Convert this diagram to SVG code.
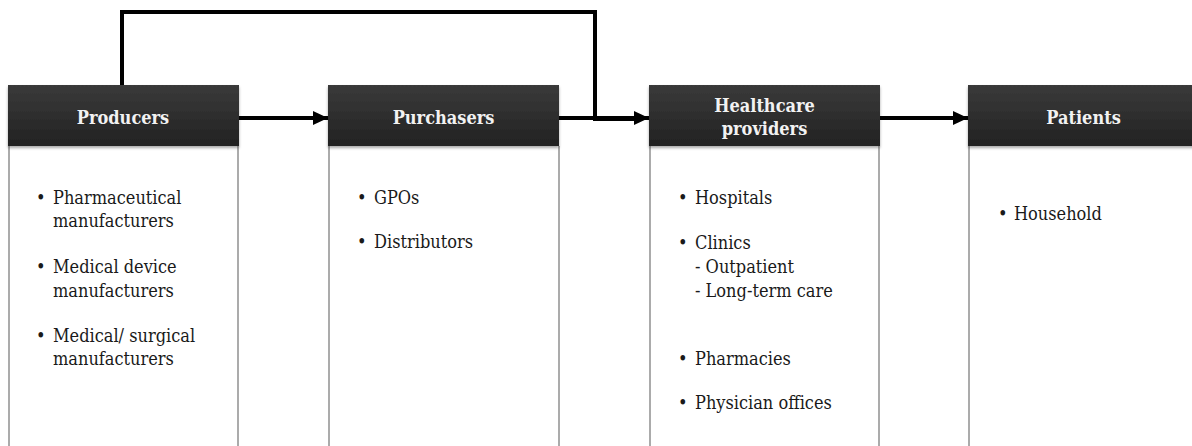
<svg xmlns="http://www.w3.org/2000/svg" width="1192" height="446" viewBox="0 0 1192 446">
  <defs>
    <linearGradient id="hdrFill" x1="0" y1="0" x2="0" y2="1">
      <stop offset="0" stop-color="#3a3a3a"/>
      <stop offset="1" stop-color="#222222"/>
    </linearGradient>
    <filter id="hdrShadow" x="-5%" y="-10%" width="110%" height="130%">
      <feGaussianBlur in="SourceAlpha" stdDeviation="1.5"/>
      <feOffset dy="2" result="b"/>
      <feComponentTransfer><feFuncA type="linear" slope="0.35"/></feComponentTransfer>
      <feMerge><feMergeNode/><feMergeNode in="SourceGraphic"/></feMerge>
    </filter>
    <marker id="arrow" markerUnits="userSpaceOnUse" markerWidth="16" markerHeight="14" refX="15" refY="7" orient="auto">
      <path d="M0,0 L15,7 L0,14 Z" fill="#000"/>
    </marker>
  </defs>
  <style>
    .hdr { fill: url(#hdrFill); filter: url(#hdrShadow); }
    .side { stroke: #ababab; stroke-width: 2; fill: none; }
    .ttl { font-family: "DejaVu Serif Condensed", "DejaVu Serif", serif; font-stretch: condensed; font-size: 18px; font-weight: bold; fill: #f2f2f2; text-anchor: middle; }
    .itm { font-family: "DejaVu Serif Condensed", "DejaVu Serif", serif; font-stretch: condensed; font-size: 18px; fill: #1a1a1a; }
    .con { stroke: #000; stroke-width: 4; fill: none; }
  </style>
  <rect width="1192" height="446" fill="#ffffff"/>

  <!-- connectors -->
  <g id="connectors">
    <path class="con" d="M122,86 V12 H595 V119 H636"/>
    <path class="con" d="M238,118 H328" marker-end="url(#arrow)"/>
    <path class="con" d="M559,118 H649" marker-end="url(#arrow)"/>
    <path class="con" d="M880,118 H968" marker-end="url(#arrow)"/>
  </g>

  <g id="producers">
    <path class="side" d="M9,146 V446 M238,146 V446"/>
    <rect class="hdr" x="8" y="85" width="231" height="61"/>
    <text class="ttl" x="123" y="124">Producers</text>
    <text class="itm" x="36" y="204">•</text>
    <text class="itm" x="53" y="204">Pharmaceutical</text>
    <text class="itm" x="53" y="227">manufacturers</text>
    <text class="itm" x="36" y="273">•</text>
    <text class="itm" x="53" y="273">Medical device</text>
    <text class="itm" x="53" y="297">manufacturers</text>
    <text class="itm" x="36" y="342">•</text>
    <text class="itm" x="53" y="342">Medical/ surgical</text>
    <text class="itm" x="53" y="365">manufacturers</text>
  </g>

  <g id="purchasers">
    <path class="side" d="M329,146 V446 M559,146 V446"/>
    <rect class="hdr" x="328" y="85" width="231" height="61"/>
    <text class="ttl" x="443.5" y="124">Purchasers</text>
    <text class="itm" x="357" y="204">•</text>
    <text class="itm" x="374" y="204">GPOs</text>
    <text class="itm" x="357" y="248">•</text>
    <text class="itm" x="374" y="248">Distributors</text>
  </g>

  <g id="healthcare-providers">
    <path class="side" d="M650,146 V446 M879,146 V446"/>
    <rect class="hdr" x="649" y="85" width="231" height="61"/>
    <text class="ttl" x="764.5" y="112">Healthcare</text>
    <text class="ttl" x="764.5" y="135">providers</text>
    <text class="itm" x="678" y="204">•</text>
    <text class="itm" x="695" y="204">Hospitals</text>
    <text class="itm" x="678" y="249">•</text>
    <text class="itm" x="695" y="249">Clinics</text>
    <text class="itm" x="695" y="273">- Outpatient</text>
    <text class="itm" x="695" y="297">- Long-term care</text>
    <text class="itm" x="678" y="365">•</text>
    <text class="itm" x="695" y="365">Pharmacies</text>
    <text class="itm" x="678" y="409">•</text>
    <text class="itm" x="695" y="409">Physician offices</text>
  </g>

  <g id="patients">
    <path class="side" d="M969,146 V446"/>
    <rect class="hdr" x="968" y="85" width="231" height="61"/>
    <text class="ttl" x="1083.5" y="124">Patients</text>
    <text class="itm" x="998" y="220">•</text>
    <text class="itm" x="1014" y="220">Household</text>
  </g>
</svg>
